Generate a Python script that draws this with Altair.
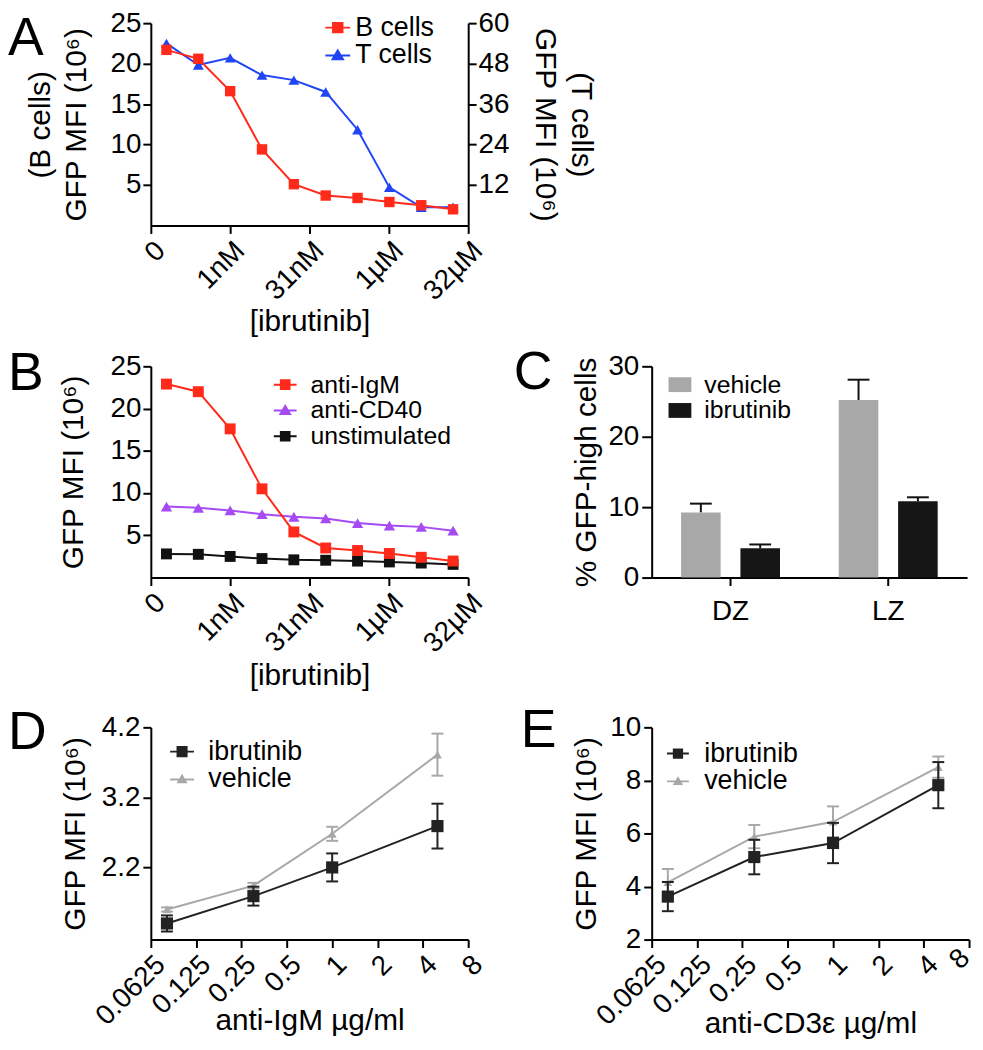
import altair as alt
import pandas as pd

FONT = "Liberation Sans"
RED = "#FF2A1A"
BLUE = "#1F45F5"
PURPLE = "#A64BF4"
BLACK = "#111111"
DARK = "#222222"
GRAY = "#A8A8A8"

# ---------------- data ----------------
conc_nM = [0.0625, 0.25, 1, 4, 16, 64, 256, 1024, 4096, 16384]
a_bcells = [21.7, 20.6, 16.6, 9.4, 5.1, 3.7, 3.4, 2.9, 2.5, 2.0]
a_tcells = [54.0, 47.6, 49.7, 44.6, 43.1, 39.6, 28.4, 11.3, 5.4, 5.4]

b_antiigm = [22.9, 22.0, 17.6, 10.5, 5.4, 3.5, 3.2, 2.85, 2.4, 1.96]
b_anticd40 = [8.4, 8.25, 7.95, 7.5, 7.2, 7.0, 6.45, 6.15, 6.0, 5.55]
b_unstim = [2.8, 2.75, 2.5, 2.25, 2.1, 2.05, 1.95, 1.85, 1.72, 1.56]

ibr_ticks = [10 ** -1.5, 1, 10 ** 1.5, 1000, 10 ** 4.5]
ibr_labels = ["0", "1nM", "31nM", "1µM", "32µM"]

c_zones = ["DZ", "LZ"]
c_groups = ["vehicle", "ibrutinib"]
c_vehicle = [9.25, 25.2]
c_vehicle_err = [1.25, 2.9]
c_ibrutinib = [4.15, 10.85]
c_ibrutinib_err = [0.55, 0.55]

de_dose = [0.08, 0.3, 1, 5]
dose_ticks = [0.0625, 0.125, 0.25, 0.5, 1, 2, 4, 8]
d_ibrutinib = [1.40, 1.79, 2.20, 2.79]
d_ibrutinib_err = [0.115, 0.135, 0.2, 0.32]
d_vehicle = [1.60, 1.94, 2.68, 3.81]
d_vehicle_err = [0.03, 0.04, 0.1, 0.3]
e_ibrutinib = [3.62, 5.11, 5.64, 7.82]
e_ibrutinib_err = [0.55, 0.65, 0.76, 0.87]
e_vehicle = [4.16, 5.88, 6.44, 8.5]
e_vehicle_err = [0.5, 0.44, 0.58, 0.4]

SQ_LINE = "M-1,0L1,0M-0.38,-0.38L0.38,-0.38L0.38,0.38L-0.38,0.38Z"
TRI_LINE = "M-1,0L1,0M0,-0.4L0.42,0.32L-0.42,0.32Z"
TRI_LINE_S = "M-1,0L1,0M0,-0.3L0.32,0.25L-0.32,0.25Z"
RECT = "M-1,-0.65L1,-0.65L1,0.65L-1,0.65Z"

# layout (cell heights and plot spans inside each cell)
W = 320
H0, PA = 204, 204          # row 0: panel A
H1, P1 = 223, 213          # row 1: panels B, C
H2, P2 = 233, 214          # row 2: panels D, E
ROW_GAP, COL_GAP = 132, 185


def ax(**kw):
    base = dict(domainColor="black", domainWidth=2, tickColor="black", tickWidth=2, tickSize=8,
                labelFont=FONT, labelFontSize=28, labelColor="black", labelOverlap=False,
                labelFlush=False, labelPadding=3,
                titleFont=FONT, titleFontSize=30, titleColor="black", titleFontWeight="normal",
                grid=False)
    base.update(kw)
    return alt.Axis(**base)


def step_label_expr(vals, labs):
    expr = ""
    for v, l in zip(vals[:-1], labs[:-1]):
        expr += f"datum.value <= {v * 1.001} ? '{l}' : "
    return expr + f"'{labs[-1]}'"


def legend_layer(field, names, colors, shapes, x, y, font_size, sym_size, label_offset):
    leg = alt.Legend(title=None, orient="none", legendX=x, legendY=y, labelFont=FONT,
                     labelFontSize=font_size, labelColor="black", symbolSize=sym_size,
                     symbolStrokeWidth=2, symbolOpacity=1, labelOffset=label_offset,
                     rowPadding=0, padding=0, labelLimit=400)
    col = alt.Scale(domain=names, range=colors)
    return (alt.Chart(pd.DataFrame({field: names}))
            .transform_filter("false")
            .mark_point(filled=True, opacity=1, strokeWidth=2)
            .encode(fill=alt.Fill(f"{field}:N", scale=col, legend=leg),
                    stroke=alt.Stroke(f"{field}:N", scale=col, legend=leg),
                    shape=alt.Shape(f"{field}:N", scale=alt.Scale(domain=names, range=shapes), legend=leg)))


def panel_title(letter, dx, dy):
    return alt.TitleParams(letter, anchor="start", frame="group", orient="top", dx=dx, dy=dy,
                           fontSize=54, font=FONT, fontWeight="normal", color="black")


ibr_expr = step_label_expr(ibr_ticks, ibr_labels)


def ibr_x(title_y):
    return alt.X("conc:Q", scale=alt.Scale(type="log", domain=[ibr_ticks[0], ibr_ticks[-1]], nice=False),
                 axis=ax(values=ibr_ticks, labelExpr=ibr_expr, labelAngle=-45, labelAlign="right",
                         labelBaseline="top", title="[ibrutinib]", titleY=title_y,
                         titleBaseline="middle"))


# ---------------- Panel A ----------------
dfA = pd.DataFrame({"conc": conc_nM, "bcells": a_bcells, "tcells": a_tcells})
yA_left = alt.Y("bcells:Q", scale=alt.Scale(domain=[0, 25], range=[H0, H0 - PA], nice=False),
                axis=ax(values=[5, 10, 15, 20, 25], title=["(B cells)", "GFP MFI (10⁶)"],
                        titleX=-96, titleLineHeight=36, labelPadding=2))
yA_right = alt.Y("tcells:Q", scale=alt.Scale(domain=[0, 60], range=[H0, H0 - PA], nice=False),
                 axis=ax(orient="right", values=[12, 24, 36, 48, 60],
                         title=["(T cells)", "GFP MFI (10⁶)"],
                         titleX=98, titleLineHeight=36, labelPadding=2))
baseA = alt.Chart(dfA).encode(x=ibr_x(97))
layerT = alt.layer(
    baseA.mark_line(color=BLUE, strokeWidth=2).encode(y=yA_right),
    baseA.mark_point(shape="triangle-up", filled=True, size=120, color=BLUE, opacity=1).encode(y=yA_right))
layerB = alt.layer(
    baseA.mark_line(color=RED, strokeWidth=2).encode(y=yA_left),
    baseA.mark_point(shape="square", filled=True, size=110, color=RED, opacity=1).encode(y=yA_left))
legA = legend_layer("seriesA", ["B cells", "T cells"], [RED, BLUE], [SQ_LINE, TRI_LINE],
                    x=175, y=-9, font_size=27, sym_size=625, label_offset=4)
panelA = (alt.layer(layerT, layerB, legA)
          .resolve_scale(y="independent")
          .properties(width=W, height=H0, title=panel_title("A", -144, 61)))

# placeholder for the empty top-right cell
placeholder = alt.Chart(pd.DataFrame({"v": []})).mark_point().properties(width=10, height=10)

# ---------------- Panel B ----------------
b_names = ["anti-IgM", "anti-CD40", "unstimulated"]
dfB = pd.DataFrame({
    "conc": conc_nM * 3,
    "value": b_antiigm + b_anticd40 + b_unstim,
    "series": [b_names[0]] * 10 + [b_names[1]] * 10 + [b_names[2]] * 10,
})
yB = alt.Y("value:Q", scale=alt.Scale(domain=[0, 25], range=[H1, H1 - P1], nice=False),
           axis=ax(values=[5, 10, 15, 20, 25], title="GFP MFI (10⁶)", titleX=-63, labelPadding=2))
b_layers = []
for name, colr, shp, sz in [(b_names[2], BLACK, "square", 121),
                            (b_names[1], PURPLE, "triangle-up", 130),
                            (b_names[0], RED, "square", 121)]:
    base = alt.Chart(dfB).transform_filter(alt.datum.series == name).encode(x=ibr_x(99), y=yB)
    b_layers.append(base.mark_line(color=colr, strokeWidth=2))
    b_layers.append(base.mark_point(shape=shp, filled=True, size=sz, color=colr, opacity=1))
legB = legend_layer("seriesB", b_names, [RED, PURPLE, BLACK], [SQ_LINE, TRI_LINE, SQ_LINE],
                    x=123, y=(H1 - P1) + 6, font_size=25, sym_size=529, label_offset=13)
panelB = alt.layer(*b_layers, legB).properties(width=W, height=H1,
                                               title=panel_title("B", -144, 53))

# ---------------- Panel C ----------------
dfC = pd.DataFrame({
    "zone": c_zones * 2,
    "groupC": [c_groups[0]] * 2 + [c_groups[1]] * 2,
    "value": c_vehicle + c_ibrutinib,
    "err": c_vehicle_err + c_ibrutinib_err,
})
dfC["top"] = dfC["value"] + dfC["err"]
xC = alt.X("zone:N", scale=alt.Scale(domain=c_zones, paddingInner=0, paddingOuter=0),
           axis=ax(labelAngle=0, title=None, labelPadding=12, bandPosition=0.5, labelBaseline="top"))
xoffC = alt.XOffset("groupC:N", scale=alt.Scale(domain=c_groups, paddingInner=1 / 3, paddingOuter=0.495))
yC = alt.Y("value:Q", scale=alt.Scale(domain=[0, 30], range=[H1, H1 - P1], nice=False),
           axis=ax(values=[0, 10, 20, 30], title="% GFP-high cells", titleX=-51, labelPadding=3, tickSize=10))
barsC = alt.Chart(dfC).mark_bar(opacity=1).encode(
    x=xC, xOffset=xoffC, y=yC,
    color=alt.Color("groupC:N", scale=alt.Scale(domain=c_groups, range=[GRAY, "#161616"]),
                    legend=alt.Legend(title=None, orient="none", legendX=16, legendY=(H1 - P1) + 6,
                                      symbolType=RECT, symbolSize=529, symbolOpacity=1,
                                      symbolStrokeWidth=0, labelFont=FONT, labelFontSize=25,
                                      labelColor="black", labelOffset=12, rowPadding=0,
                                      padding=0)))
rulesC = alt.Chart(dfC).mark_rule(color=BLACK, strokeWidth=2).encode(
    x=xC, xOffset=xoffC, y=alt.Y("value:Q"), y2="top:Q")
capsC = alt.Chart(dfC).mark_tick(color=BLACK, thickness=2, size=22, opacity=1).encode(
    x=xC, xOffset=xoffC, y=alt.Y("top:Q"))
panelC = alt.layer(rulesC, barsC, capsC).properties(width=318, height=H1,
                                                    title=panel_title("C", -139, 52))


# ---------------- Panels D / E ----------------
LAST = dose_ticks[-1]


def dose_panel(field, ibr, ibr_err, veh, veh_err, ydom, yticks, xtitle, title_y, letter, ldx, ldy,
               leg_x, leg_y, leg_size, title_x, tuck_last):
    names = ["ibrutinib", "vehicle"]
    df = pd.DataFrame({
        "dose": de_dose * 2,
        field: [names[0]] * 4 + [names[1]] * 4,
        "mean": ibr + veh,
        "err": ibr_err + veh_err,
    })
    df["lo"] = df["mean"] - df["err"]
    df["hi"] = df["mean"] + df["err"]
    extra = {}
    if tuck_last:
        # keep the last (edge) label inside the page
        test = f"datum.value == {LAST}"
        extra = dict(
            labelBaseline={"condition": {"test": test, "value": "bottom"}, "value": "top"},
            labelPadding={"condition": {"test": test, "value": 16}, "value": 3},
            labelOffset={"condition": {"test": test, "value": 6}, "value": 0},
        )
    else:
        extra = dict(labelBaseline="top")
    x = alt.X("dose:Q", scale=alt.Scale(type="log", base=2, domain=[dose_ticks[0], dose_ticks[-1]], nice=False),
              axis=ax(values=dose_ticks, labelExpr="datum.value + ''", labelAngle=-45, labelAlign="right",
                      title=xtitle, titleY=title_y, titleBaseline="middle", **extra))
    y = alt.Y("mean:Q", scale=alt.Scale(domain=ydom, range=[H2, H2 - P2], nice=False),
              axis=ax(values=yticks, title="GFP MFI (10⁶)", titleX=title_x, labelPadding=3))
    layers = []
    for name, colr, shp, sz in [(names[1], GRAY, "triangle-up", 80), (names[0], DARK, "square", 150)]:
        base = alt.Chart(df).transform_filter(alt.datum[field] == name).encode(x=x)
        layers.append(base.mark_line(color=colr, strokeWidth=2).encode(y=y))
        layers.append(base.mark_rule(color=colr, strokeWidth=2).encode(y=alt.Y("lo:Q"), y2="hi:Q"))
        layers.append(base.mark_tick(color=colr, thickness=2, size=12, orient="horizontal", opacity=1)
                      .encode(y=alt.Y("lo:Q")))
        layers.append(base.mark_tick(color=colr, thickness=2, size=12, orient="horizontal", opacity=1)
                      .encode(y=alt.Y("hi:Q")))
        layers.append(base.mark_point(shape=shp, filled=True, size=sz, color=colr, opacity=1).encode(y=y))
    leg = legend_layer(field, names, [DARK, GRAY], [SQ_LINE, TRI_LINE_S], x=leg_x, y=leg_y, font_size=27,
                       sym_size=leg_size, label_offset=13)
    return alt.layer(*layers, leg).properties(width=W, height=H2,
                                              title=panel_title(letter, ldx, ldy))


panelD = dose_panel("seriesD", d_ibrutinib, d_ibrutinib_err, d_vehicle, d_vehicle_err, [1.17, 4.2],
                    [2.2, 3.2, 4.2], "anti-IgM µg/ml", 82, "D", -144, 56,
                    18, (H2 - P2) + 11, 576, -61, False)
panelE = dose_panel("seriesE", e_ibrutinib, e_ibrutinib_err, e_vehicle, e_vehicle_err, [2, 10],
                    [2, 4, 6, 8, 10], "anti-CD3ε µg/ml", 85, "E", -132, 54,
                    13, (H2 - P2) + 13, 484, -51, True)

chart = (alt.concat(panelA, placeholder, panelB, panelC, panelD, panelE, columns=2,
                    spacing={"row": ROW_GAP, "column": COL_GAP}, bounds="flush")
         .resolve_scale(color="independent", fill="independent", stroke="independent", shape="independent")
         .resolve_legend(color="independent", fill="independent", stroke="independent", shape="independent")
         .properties(padding={"top": -3, "left": 0, "right": 0, "bottom": 0})
         .configure(font=FONT, background="white")
         .configure_view(stroke=None))

chart.save("out.html", embed_options={"renderer": "svg", "actions": False})
